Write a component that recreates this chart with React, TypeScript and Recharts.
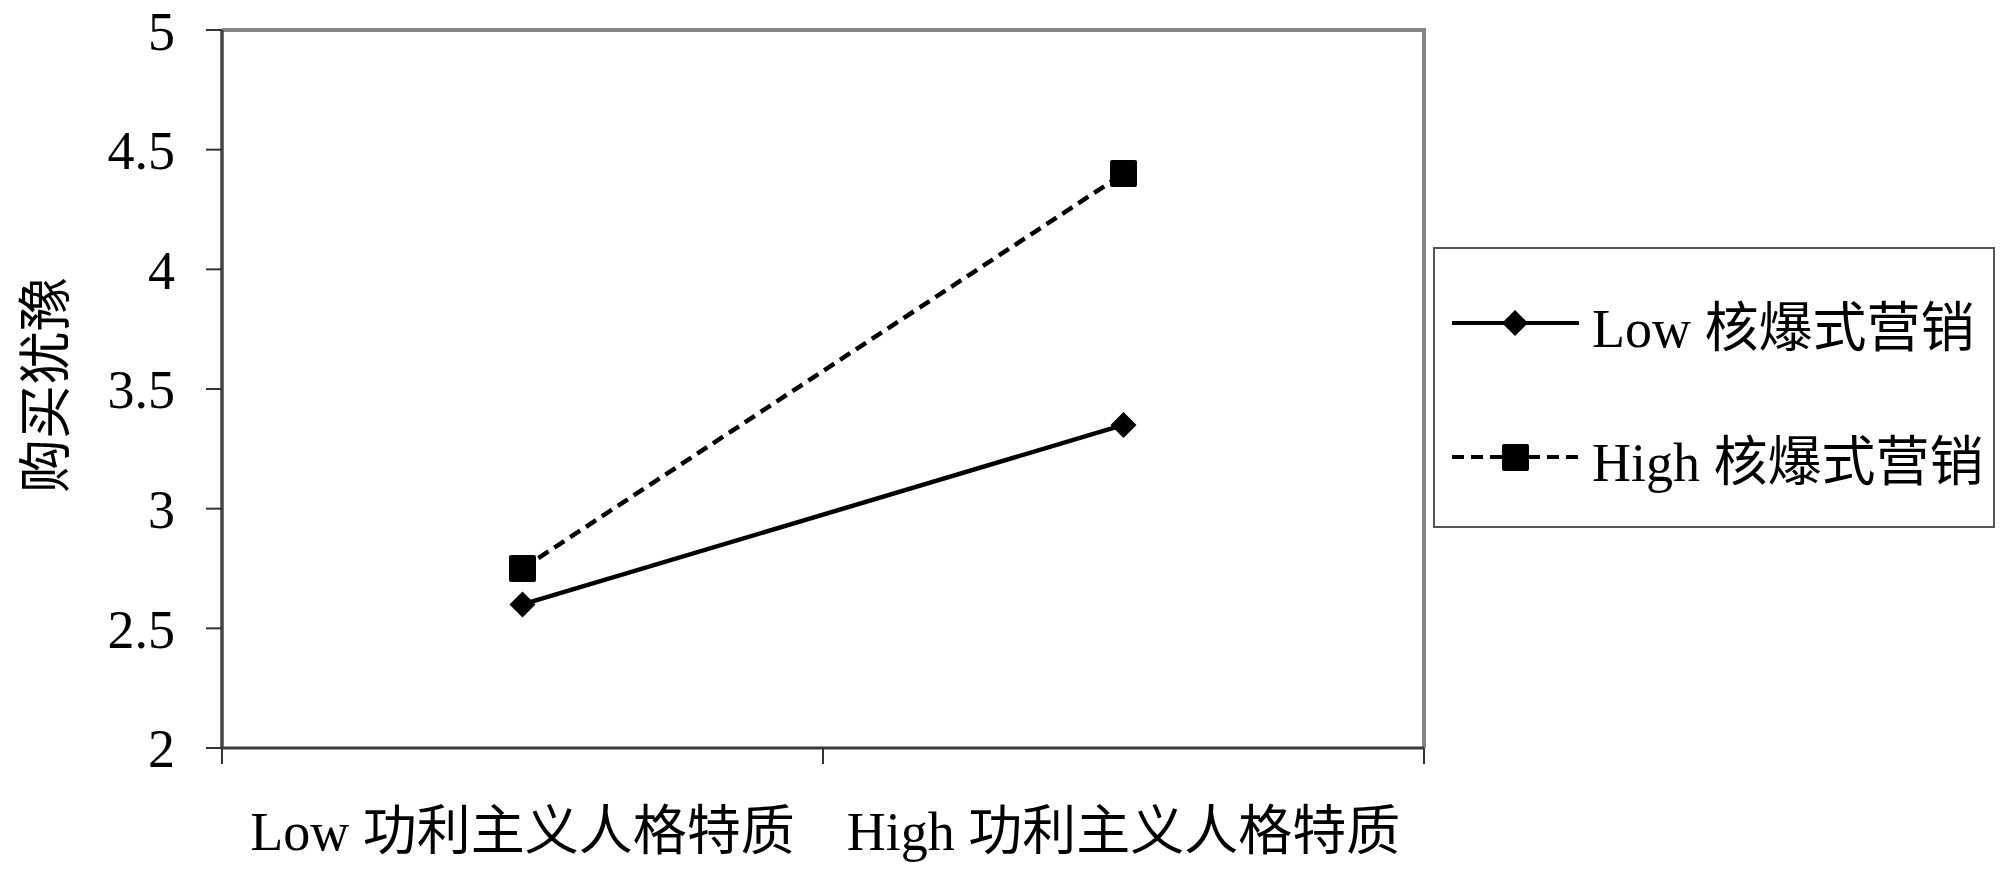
import React from "react";
import { LineChart, Line, XAxis, YAxis, Legend, ReferenceArea } from "recharts";

const categories = ["Low 功利主义人格特质", "High 功利主义人格特质"];
const seriesNames = ["Low 核爆式营销", "High 核爆式营销"];
const lowValues = [2.6, 3.35];
const highValues = [2.75, 4.4];
const yTicks = [2, 2.5, 3, 3.5, 4, 4.5, 5];
const yTitle = "购买犹豫";

const data = categories.map((name, i) => ({
  name,
  low: lowValues[i],
  high: highValues[i],
}));

const FONT = "'Liberation Serif', 'Times New Roman', 'Noto Sans CJK SC', serif";
const X_TICK_MARGIN = 64;

// markers
const Diamond = (props: any) => {
  const { cx, cy, index } = props;
  const r = 13;
  return (
    <path
      key={`d-${index}`}
      d={`M${cx},${cy - r}L${cx + r},${cy}L${cx},${cy + r}L${cx - r},${cy}Z`}
      fill="#000"
    />
  );
};

const Square = (props: any) => {
  const { cx, cy, index } = props;
  const s = 27;
  return <rect key={`s-${index}`} x={cx - s / 2} y={cy - s / 2} width={s} height={s} rx={2} fill="#000" />;
};

// only the top and right edges of the plot frame
const FrameShape = (props: any) => {
  const { x, y, width, height } = props;
  return (
    <path
      d={`M${x},${y}H${x + width}V${y + height}`}
      fill="none"
      stroke="#858585"
      strokeWidth={4}
    />
  );
};

// category label + tick marks on the band edges (Excel style)
const XTick = (props: any) => {
  const { x, y, payload, index, visibleTicksCount } = props;
  const half = payload.offset || 0;
  const axisY = y - X_TICK_MARGIN;
  const left = payload.coordinate - half;
  const right = payload.coordinate + half;
  return (
    <g>
      <line x1={left} x2={left} y1={axisY} y2={axisY + 16} stroke="#333" strokeWidth={2} />
      {index === visibleTicksCount - 1 && (
        <line x1={right} x2={right} y1={axisY} y2={axisY + 16} stroke="#333" strokeWidth={2} />
      )}
      <text x={x} y={y} dy="0.71em" textAnchor="middle" fontSize={54} fontFamily={FONT} fill="#000">
        {payload.value}
      </text>
    </g>
  );
};

const renderLegend = () => (
  <div
    style={{
      position: "relative",
      width: 562,
      height: 281,
      border: "2px solid #555",
      boxSizing: "border-box",
      background: "#fff",
      fontFamily: FONT,
    }}
  >
    {seriesNames.map((name, i) => (
      <div
        key={name}
        style={{
          position: "absolute",
          left: 15,
          top: 44 + i * 134,
          height: 60,
          display: "flex",
          alignItems: "center",
          whiteSpace: "nowrap",
        }}
      >
        <svg width={142} height={60}>
          <line
            x1={2}
            x2={129}
            y1={30}
            y2={30}
            stroke="#000"
            strokeWidth={4}
            strokeDasharray={i === 1 ? "12 7" : undefined}
          />
          {i === 0 ? (
            <path d="M65,17L78,30L65,43L52,30Z" fill="#000" />
          ) : (
            <rect x={52} y={17} width={27} height={27} rx={2} fill="#000" />
          )}
        </svg>
        <span style={{ fontSize: 54, color: "#000" }}>{name}</span>
      </div>
    ))}
  </div>
);

export default function App() {
  return (
    <div style={{ position: "absolute", left: 0, top: 0, width: 2000, height: 872, background: "#fff" }}>
      <LineChart
        width={2000}
        height={872}
        data={data}
        margin={{ top: 30, right: 14, bottom: 0, left: 0 }}
      >
        <ReferenceArea y1={2} y2={5} ifOverflow="visible" shape={<FrameShape />} />
        <XAxis
          dataKey="name"
          scale="band"
          height={124}
          axisLine={{ stroke: "#3a3a3a", strokeWidth: 3 }}
          tickLine={false}
          tickSize={0}
          tickMargin={X_TICK_MARGIN}
          tick={<XTick />}
          interval={0}
        />
        <YAxis
          type="number"
          domain={[2, 5]}
          ticks={yTicks}
          width={222}
          axisLine={{ stroke: "#444", strokeWidth: 3.5 }}
          tickLine={{ stroke: "#333", strokeWidth: 2 }}
          tickSize={16}
          tickMargin={31}
          tick={{ fontSize: 54, fill: "#000", fontFamily: FONT }}
          label={{
            content: (p: any) => {
              const vb = p.viewBox || { x: 0, y: 30, width: 222, height: 718 };
              const x = vb.x + 47;
              const y = vb.y + vb.height / 2 - 4;
              return (
                <text
                  x={x}
                  y={y}
                  transform={`rotate(-90, ${x}, ${y})`}
                  textAnchor="middle"
                  dominantBaseline="central"
                  fontSize={54}
                  fontFamily={FONT}
                  fill="#000"
                >
                  {yTitle}
                </text>
              );
            },
          }}
        />
        <Line
          dataKey="low"
          name={seriesNames[0]}
          stroke="#000"
          strokeWidth={4.5}
          dot={Diamond}
          activeDot={false}
          isAnimationActive={false}
        />
        <Line
          dataKey="high"
          name={seriesNames[1]}
          stroke="#000"
          strokeWidth={4.5}
          strokeDasharray="12 7"
          dot={Square}
          activeDot={false}
          isAnimationActive={false}
        />
        <Legend
          layout="vertical"
          align="right"
          verticalAlign="middle"
          content={renderLegend}
          wrapperStyle={{ position: "absolute", left: 1433, top: 247, width: 562, height: 281 }}
        />
      </LineChart>
    </div>
  );
}
